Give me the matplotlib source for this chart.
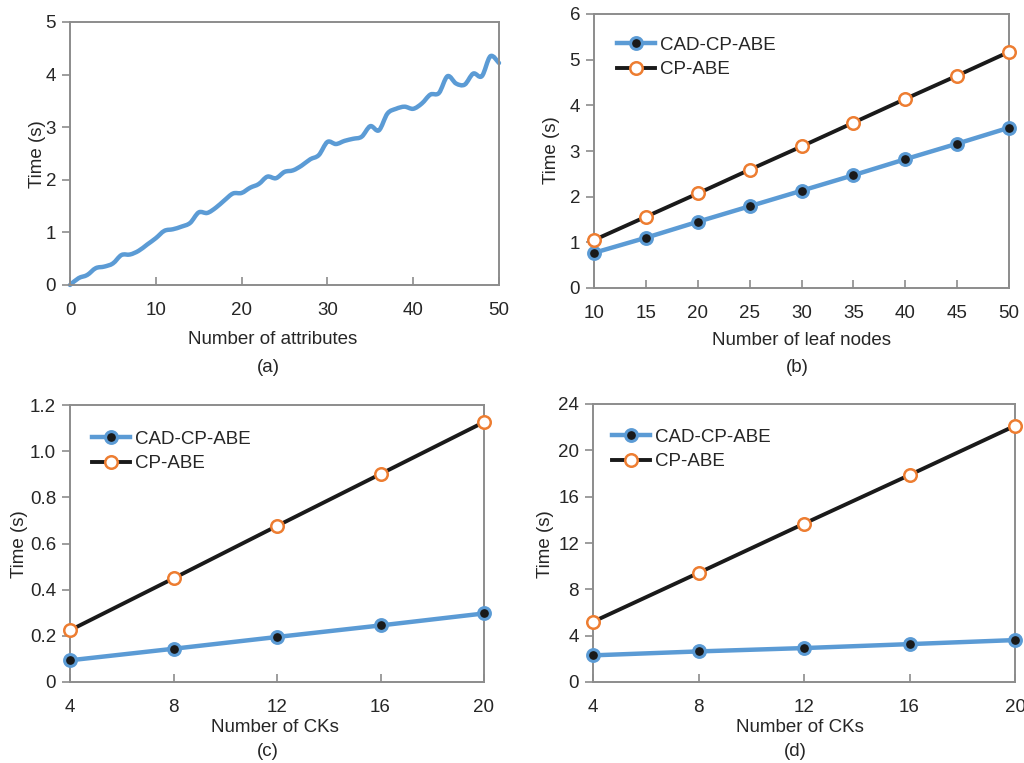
import matplotlib
matplotlib.use("Agg")
import matplotlib.pyplot as plt
from matplotlib.path import Path
from matplotlib.patches import PathPatch

plt.rcParams['font.family'] = ['Liberation Sans', 'DejaVu Sans']

# ---------------- data ----------------
# (a)
attr_x = list(range(0, 51))
attr_time = [0.00, 0.13, 0.19, 0.32, 0.35, 0.41, 0.57, 0.58, 0.65, 0.77,
             0.89, 1.03, 1.06, 1.11, 1.18, 1.38, 1.37, 1.47, 1.61, 1.74,
             1.75, 1.85, 1.92, 2.06, 2.03, 2.15, 2.18, 2.27, 2.39, 2.47,
             2.72, 2.68, 2.74, 2.78, 2.82, 3.02, 2.94, 3.26, 3.35, 3.39,
             3.35, 3.45, 3.62, 3.65, 3.97, 3.83, 3.81, 4.02, 3.97, 4.35,
             4.22]
# (b)
leaf_x = [10, 15, 20, 25, 30, 35, 40, 45, 50]
leaf_cad = [0.77, 1.10, 1.45, 1.79, 2.13, 2.47, 2.82, 3.16, 3.51]
leaf_cp = [1.05, 1.56, 2.07, 2.59, 3.10, 3.62, 4.14, 4.65, 5.17]
# (c)
ck_x = [4, 8, 12, 16, 20]
c_cad = [0.094, 0.144, 0.195, 0.245, 0.297]
c_cp = [0.224, 0.449, 0.676, 0.901, 1.126]
# (d)
d_cad = [2.3, 2.64, 2.93, 3.27, 3.62]
d_cp = [5.2, 9.42, 13.67, 17.87, 22.12]

series_names = ["CAD-CP-ABE", "CP-ABE"]

# ---------------- style ----------------
W, H = 1024, 763
BLUE = "#5b9bd5"
ORANGE = "#ed7d31"
BLACK = "#1a1a1a"
GRAY = "#8c8c8c"
TXT = "#262626"
FS = 13.5

fig = plt.figure(figsize=(W / 100, H / 100), dpi=100)


def add_ax(l, t, r, b):
    return fig.add_axes([l / W, 1 - b / H, (r - l) / W, (b - t) / H])


def style(ax):
    for s in ax.spines.values():
        s.set_color(GRAY)
        s.set_linewidth(1.4)
    ax.tick_params(axis='x', direction='in', length=6, width=1.2, color=GRAY,
                   labelsize=FS, labelcolor=TXT, pad=12)
    ax.tick_params(axis='y', direction='out', length=6, width=1.2, color=GRAY,
                   labelsize=FS, labelcolor=TXT, pad=4)


def ftext(x, y, s, **kw):
    fig.text(x / W, 1 - y / H, s, ha='center', va='center', fontsize=FS,
             color=TXT, **kw)


def smooth_line(ax, xs, ys, **kw):
    # smoothed (Catmull-Rom style Bezier) rendering through the data points
    verts = [(xs[0], ys[0])]
    codes = [Path.MOVETO]
    n = len(xs)
    for i in range(n - 1):
        x0, y0 = (xs[i - 1], ys[i - 1]) if i > 0 else (xs[i], ys[i])
        x1, y1 = xs[i], ys[i]
        x2, y2 = xs[i + 1], ys[i + 1]
        x3, y3 = (xs[i + 2], ys[i + 2]) if i + 2 < n else (x2, y2)
        c1 = (x1 + (x2 - x0) / 6.0, y1 + (y2 - y0) / 6.0)
        c2 = (x2 - (x3 - x1) / 6.0, y2 - (y3 - y1) / 6.0)
        verts += [c1, c2, (x2, y2)]
        codes += [Path.CURVE4] * 3
    patch = PathPatch(Path(verts, codes), facecolor='none', **kw)
    ax.add_patch(patch)


def two_series(ax, x, cad, cp, xoff, yoff):
    ax.plot(x, cad, color=BLUE, lw=3.2, marker='o', ms=8.5, mfc=BLACK,
            mec=BLUE, mew=2.2, clip_on=False, zorder=3, label=series_names[0])
    ax.plot(x, cp, color=BLACK, lw=2.8, marker='o', ms=9, mfc='white',
            mec=ORANGE, mew=1.8, clip_on=False, zorder=4, label=series_names[1])
    ax.legend(loc='upper left', frameon=False, fontsize=FS, handlelength=2.0,
              handletextpad=0.3, labelspacing=0.4, borderaxespad=0.0,
              borderpad=0.0, bbox_to_anchor=(xoff, yoff), labelcolor=TXT)


# (a)
ax = add_ax(70, 22, 499, 285)
smooth_line(ax, attr_x, attr_time, edgecolor=BLUE, lw=3.2,
            joinstyle='round', capstyle='round', clip_on=False)
ax.set_xlim(0, 50)
ax.set_ylim(0, 5)
ax.set_xticks([0, 10, 20, 30, 40, 50])
ax.set_yticks([0, 1, 2, 3, 4, 5])
style(ax)
ftext(273, 340, "Number of attributes")
ftext(268, 367, "(a)")
ftext(37, 154, "Time (s)", rotation=90)

# (b)
ax = add_ax(594, 14, 1009, 288)
two_series(ax, leaf_x, leaf_cad, leaf_cp, 23 / 415, 0.918)
ax.set_xlim(10, 50)
ax.set_ylim(0, 6)
ax.set_xticks(leaf_x)
ax.set_yticks([0, 1, 2, 3, 4, 5, 6])
style(ax)
ftext(801, 341, "Number of leaf nodes")
ftext(797, 367, "(b)")
ftext(552, 150, "Time (s)", rotation=90)

# (c)
ax = add_ax(70, 405, 484, 682)
two_series(ax, ck_x, c_cad, c_cp, 22 / 414, 0.908)
ax.set_xlim(4, 20)
ax.set_ylim(0, 1.2)
ax.set_xticks(ck_x)
ax.set_yticks([0, 0.2, 0.4, 0.6, 0.8, 1.0, 1.2])
ax.set_yticklabels(["0", "0.2", "0.4", "0.6", "0.8", "1.0", "1.2"])
style(ax)
ftext(275, 728, "Number of CKs")
ftext(268, 752, "(c)")
ftext(19, 544, "Time (s)", rotation=90)

# (d)
ax = add_ax(593, 404, 1015, 682)
two_series(ax, ck_x, d_cad, d_cp, 19 / 422, 0.912)
ax.set_xlim(4, 20)
ax.set_ylim(0, 24)
ax.set_xticks(ck_x)
ax.set_yticks([0, 4, 8, 12, 16, 20, 24])
style(ax)
ftext(800, 727, "Number of CKs")
ftext(795, 752, "(d)")
ftext(545, 544, "Time (s)", rotation=90)

fig.savefig("out.png", dpi=100)
